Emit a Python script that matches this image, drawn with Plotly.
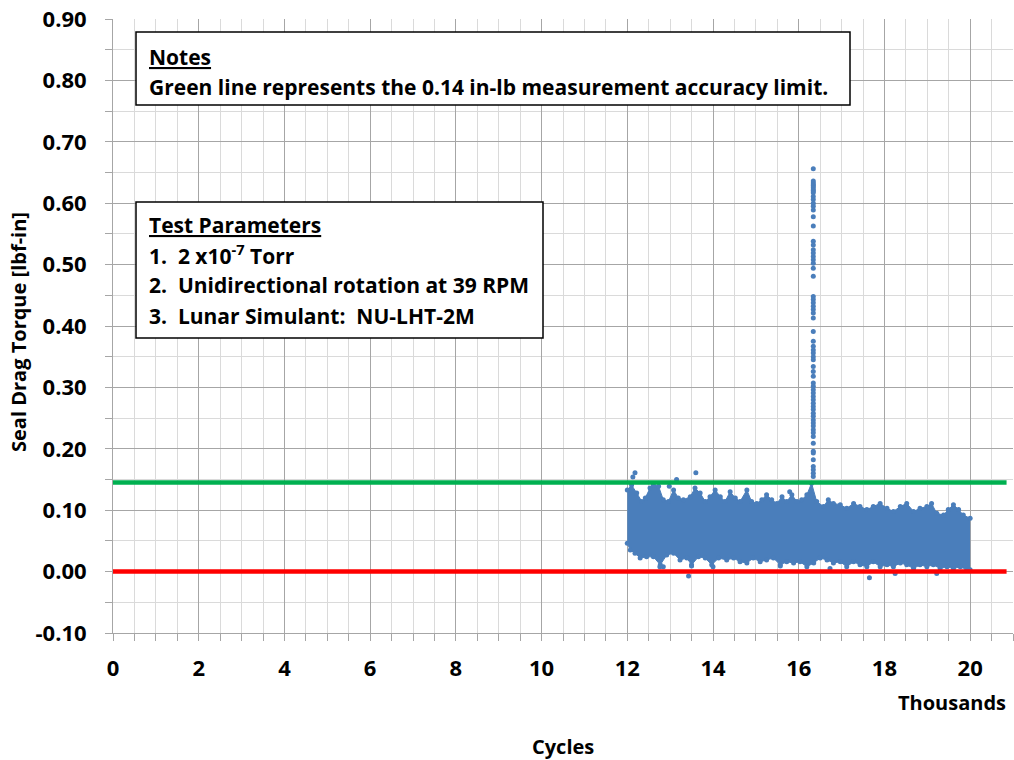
import plotly.graph_objects as go

# ---------------- data (x in thousands of cycles, torque in lbf-in) ----------------
upper_x = [12.00, 12.10, 12.22, 12.34, 12.42, 12.53, 12.61, 12.73, 12.84, 12.96, 13.08,
           13.19, 13.31, 13.47, 13.58, 13.70, 13.82, 13.93, 14.05, 14.17, 14.28, 14.40,
           14.52, 14.63, 14.79, 14.90, 15.02, 15.14, 15.25, 15.37, 15.49, 15.61, 15.72,
           15.84, 15.96, 16.07, 16.19, 16.30, 16.42, 16.58, 16.69, 16.81, 16.97, 17.12,
           17.28, 17.43, 17.59, 17.74, 17.90, 18.06, 18.21, 18.37, 18.52, 18.68, 18.83,
           18.99, 19.10, 19.22, 19.38, 19.49, 19.61, 19.73, 19.84, 20.00]
upper_y = [0.133, 0.141, 0.128, 0.114, 0.120, 0.136, 0.141, 0.139, 0.117, 0.114, 0.133,
           0.120, 0.117, 0.122, 0.136, 0.128, 0.114, 0.122, 0.133, 0.122, 0.114, 0.130,
           0.120, 0.114, 0.133, 0.114, 0.111, 0.117, 0.125, 0.117, 0.111, 0.122, 0.114,
           0.125, 0.114, 0.117, 0.125, 0.144, 0.114, 0.106, 0.117, 0.111, 0.109, 0.103,
           0.111, 0.106, 0.101, 0.106, 0.111, 0.103, 0.098, 0.106, 0.111, 0.098, 0.103,
           0.106, 0.111, 0.095, 0.092, 0.101, 0.109, 0.101, 0.092, 0.087]

lower_x = [12.00, 12.07, 12.18, 12.30, 12.45, 12.61, 12.77, 12.92, 13.08, 13.23, 13.39,
           13.50, 13.66, 13.82, 13.97, 14.13, 14.32, 14.48, 14.63, 14.79, 14.94, 15.10,
           15.25, 15.41, 15.57, 15.72, 15.88, 16.03, 16.19, 16.35, 16.50, 16.66, 16.81,
           16.97, 17.12, 17.28, 17.43, 17.59, 17.74, 17.90, 18.06, 18.21, 18.37, 18.52,
           18.68, 18.83, 18.99, 19.14, 19.30, 19.46, 19.61, 19.77, 19.92, 20.00]
lower_y = [0.046, 0.035, 0.030, 0.022, 0.024, 0.024, 0.011, 0.027, 0.030, 0.019, 0.022,
           0.011, 0.024, 0.022, 0.011, 0.022, 0.019, 0.022, 0.016, 0.014, 0.022, 0.016,
           0.019, 0.022, 0.011, 0.016, 0.014, 0.016, 0.008, 0.014, 0.022, 0.019, 0.014,
           0.016, 0.008, 0.016, 0.011, 0.008, 0.016, 0.008, 0.011, 0.008, 0.014, 0.011,
           0.005, 0.011, 0.008, 0.011, 0.005, 0.008, 0.005, 0.008, 0.003, 0.003]

outlier_x = [12.18, 12.13, 13.60, 13.15, 13.43, 17.65, 12.84, 13.50, 14.00, 12.98,
             15.79, 18.25, 19.22, 12.76, 15.57, 16.73]
outlier_y = [0.161, 0.154, 0.161, 0.150, -0.007, -0.010, 0.008, 0.009, 0.008, 0.139,
             0.130, -0.003, -0.003, 0.008, 0.009, 0.005]

spike_y = [0.656, 0.636, 0.633, 0.630, 0.628, 0.625, 0.622, 0.620, 0.617, 0.611, 0.606,
           0.600, 0.595, 0.589, 0.578, 0.563, 0.538, 0.532, 0.524, 0.519, 0.513, 0.508,
           0.502, 0.494, 0.481, 0.448, 0.443, 0.438, 0.432, 0.427, 0.421, 0.413, 0.391,
           0.375, 0.367, 0.361, 0.356, 0.350, 0.345, 0.334, 0.326, 0.318, 0.307, 0.302,
           0.296, 0.291, 0.285, 0.280, 0.274, 0.269, 0.264, 0.258, 0.253, 0.247, 0.242,
           0.237, 0.231, 0.226, 0.220, 0.209, 0.196, 0.193, 0.182, 0.171, 0.166, 0.160,
           0.155]
spike_x = [16.34] * len(spike_y)

limit_x = [0, 20.85]
accuracy_limit = [0.145, 0.145]
zero_line = [0.0, 0.0]

x_tickvals = [0, 2, 4, 6, 8, 10, 12, 14, 16, 18, 20]
x_ticktext = ["0", "2", "4", "6", "8", "10", "12", "14", "16", "18", "20"]
y_tickvals = [-0.10, 0.00, 0.10, 0.20, 0.30, 0.40, 0.50, 0.60, 0.70, 0.80, 0.90]
y_ticktext = ["-0.10", "0.00", "0.10", "0.20", "0.30", "0.40", "0.50", "0.60", "0.70",
              "0.80", "0.90"]

# ---------------- styling ----------------
BLUE = "#4A7EBB"
FONT = "Open Sans"
MAJOR = "#A6A6A6"
MINOR = "#DADADA"

fig = go.Figure()

fig.add_trace(go.Scatter(x=lower_x, y=lower_y, mode="lines+markers",
                         line=dict(color=BLUE, width=1),
                         marker=dict(color=BLUE, size=5), showlegend=False))
fig.add_trace(go.Scatter(x=upper_x, y=upper_y, mode="lines+markers",
                         line=dict(color=BLUE, width=1), fill="tonexty", fillcolor=BLUE,
                         marker=dict(color=BLUE, size=5), showlegend=False))
fig.add_trace(go.Scatter(x=outlier_x, y=outlier_y, mode="markers",
                         marker=dict(color=BLUE, size=5), showlegend=False))
fig.add_trace(go.Scatter(x=spike_x, y=spike_y, mode="markers",
                         marker=dict(color=BLUE, size=5), showlegend=False))
fig.add_trace(go.Scatter(x=limit_x, y=accuracy_limit, mode="lines",
                         line=dict(color="#00B050", width=4.5), showlegend=False))
fig.add_trace(go.Scatter(x=limit_x, y=zero_line, mode="lines",
                         line=dict(color="#FF0000", width=4.5), showlegend=False))

axis_font = dict(family=FONT, size=22, color="#000000", weight="bold")

fig.update_xaxes(range=[0, 21], tickvals=x_tickvals, ticktext=x_ticktext,
                 showgrid=True, gridcolor=MAJOR, gridwidth=1,
                 ticks="outside", ticklen=7, tickcolor=MAJOR, tickwidth=1,
                 showline=True, linecolor=MAJOR, linewidth=1, zeroline=False,
                 tickfont=axis_font, ticklabelstandoff=9,
                 minor=dict(dtick=0.5, tick0=0, showgrid=True, gridcolor=MINOR,
                            ticks="outside", ticklen=7, tickcolor=MAJOR))
fig.update_yaxes(range=[-0.10, 0.90], tickvals=y_tickvals, ticktext=y_ticktext,
                 showgrid=True, gridcolor=MAJOR, gridwidth=1,
                 ticks="outside", ticklen=7, tickcolor=MAJOR, tickwidth=1,
                 showline=True, linecolor=MAJOR, linewidth=1, zeroline=False,
                 tickfont=axis_font, ticklabelstandoff=14,
                 minor=dict(dtick=0.05, tick0=0, showgrid=True, gridcolor=MINOR,
                            ticks="outside", ticklen=7, tickcolor=MAJOR))

PL, PR, PT, PB = 113, 1013, 19, 633
W, H = 1014, 760


def px(xp):
    return (xp - PL) / (PR - PL)


def py(yp):
    return (PB - yp) / (PB - PT)


shapes = [
    dict(type="rect", xref="paper", yref="paper", x0=px(136), x1=px(850),
         y0=py(105), y1=py(32), line=dict(color="#000000", width=1.5), fillcolor="white",
         layer="above"),
    dict(type="rect", xref="paper", yref="paper", x0=px(136), x1=px(543),
         y0=py(338), y1=py(202), line=dict(color="#000000", width=1.5), fillcolor="white",
         layer="above"),
]

txt_font = dict(family=FONT, size=21, color="#000000", weight="bold")
title_font = dict(family=FONT, size=20, color="#000000", weight="bold")
NB = "\u00a0"


def note(text, x, y, xanchor="left", font=txt_font, **kw):
    return dict(text=text, xref="paper", yref="paper", x=px(x), y=py(y),
                xanchor=xanchor, yanchor="middle", showarrow=False, font=font, **kw)


annotations = [
    note("<u>Notes</u>", 147, 57),
    note("Green line represents the 0.14 in-lb measurement accuracy limit.", 147, 87),
    note("<u>Test Parameters</u>", 147, 225),
    note("1." + NB + NB + "2 x10<sup>-7</sup> Torr", 147, 255),
    note("2." + NB + NB + "Unidirectional rotation at 39 RPM", 147, 285),
    note("3." + NB + NB + "Lunar Simulant:" + NB + NB + "NU-LHT-2M", 147, 316),
    note("Thousands", 1008, 702, xanchor="right", font=title_font),
    note("Cycles", 563, 746, xanchor="center", font=title_font),
    note("Seal Drag Torque [lbf-in]", 18, 332, xanchor="center", textangle=-90,
         font=title_font),
]

fig.update_layout(width=W, height=H, autosize=False,
                  margin=dict(l=PL, r=W - PR, t=PT, b=H - PB),
                  plot_bgcolor="white", paper_bgcolor="white",
                  shapes=shapes, annotations=annotations, showlegend=False)

fig.write_html("out.html", config={"displayModeBar": False},
               post_script="document.body.style.margin='0';"
                           "document.body.style.overflow='hidden';")
